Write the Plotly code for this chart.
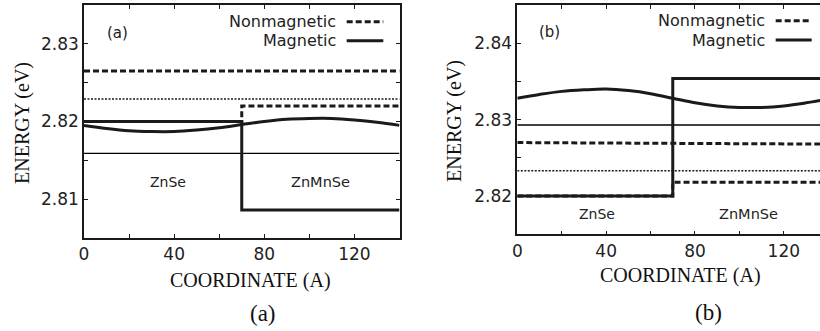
import plotly.graph_objects as go

# ---------------- data ----------------
coord = [0, 10, 20, 30, 40, 50, 60, 70, 80, 90, 100, 110, 120, 130, 140]
step_x = [0, 70, 70, 140]
flat_x = [0, 140]

# panel (a)
a_mag_wave = [2.8195, 2.8191, 2.8188, 2.8187, 2.8187, 2.8189, 2.8192, 2.8196,
              2.8200, 2.8203, 2.8204, 2.8204, 2.8202, 2.8199, 2.8195]
a_mag_pot = [2.8200, 2.8200, 2.8086, 2.8086]
a_non_pot = [2.8200, 2.8200, 2.8220, 2.8220]
a_non_wave = [2.8265, 2.8265]
a_non_level = [2.8229, 2.8229]
a_mag_level = [2.8159, 2.8159]

# panel (b)
b_mag_wave = [2.8328, 2.8333, 2.8337, 2.8339, 2.8340, 2.8338, 2.8334, 2.8328,
              2.8322, 2.8318, 2.8316, 2.8316, 2.8318, 2.8322, 2.8327]
b_mag_pot = [2.8200, 2.8200, 2.8354, 2.8354]
b_non_pot = [2.8200, 2.8200, 2.8218, 2.8218]
b_non_wave = [2.8270, 2.8268]
b_non_level = [2.8233, 2.8233]
b_mag_level = [2.8293, 2.8293]

x_tickvals = [0, 20, 40, 60, 80, 100, 120, 140]
x_ticktext = ["0", "", "40", "", "80", "", "120", ""]
a_y_tickvals = [2.805, 2.81, 2.815, 2.82, 2.825, 2.83, 2.835]
a_y_ticktext = ["", "2.81", "", "2.82", "", "2.83", ""]
b_y_tickvals = [2.815, 2.82, 2.825, 2.83, 2.835, 2.84, 2.845]
b_y_ticktext = ["", "2.82", "", "2.83", "", "2.84", ""]

# ---------------- figure ----------------
INK = "#1a1a1a"
THICK = 3
DASH = "6px,3px"
DOT = "2px,1.5px"

fig = go.Figure()

def add_panel(xa, ya, mag_wave, mag_pot, non_pot, non_wave, non_level, mag_level):
    kw = dict(xaxis=xa, yaxis=ya, mode="lines", showlegend=False, hoverinfo="skip")
    fig.add_trace(go.Scatter(x=flat_x, y=mag_level, line=dict(color="#000", width=1.4), **kw))
    fig.add_trace(go.Scatter(x=flat_x, y=non_level, line=dict(color=INK, width=1.5, dash=DOT), **kw))
    fig.add_trace(go.Scatter(x=flat_x, y=non_wave, line=dict(color=INK, width=THICK, dash=DASH), **kw))
    fig.add_trace(go.Scatter(x=step_x, y=non_pot, line=dict(color=INK, width=THICK, dash=DASH), **kw))
    fig.add_trace(go.Scatter(x=step_x, y=mag_pot, line=dict(color=INK, width=THICK), **kw))
    fig.add_trace(go.Scatter(x=coord, y=mag_wave, line=dict(color=INK, width=THICK, shape="spline"), **kw))

add_panel("x", "y", a_mag_wave, a_mag_pot, a_non_pot, a_non_wave, a_non_level, a_mag_level)
add_panel("x2", "y2", b_mag_wave, b_mag_pot, b_non_pot, b_non_wave, b_non_level, b_mag_level)

W, H = 820, 331
def px(x):
    return x / W
def py(y):
    return 1 - y / H

tickfont = dict(family="DejaVu Sans", size=17, color="#222")
axis_common = dict(showline=True, linecolor=INK, linewidth=1.6, ticks="inside",
                   ticklen=4, tickwidth=1.2, tickcolor=INK, showgrid=False,
                   zeroline=False, tickfont=tickfont, fixedrange=True,
                   automargin=False)

fig.update_layout(
    width=W, height=H,
    margin=dict(l=0, r=0, t=0, b=0, autoexpand=False),
    paper_bgcolor="white", plot_bgcolor="white",
    xaxis=dict(domain=[px(84), px(399.5)], range=[0, 140], anchor="y",
               tickmode="array", tickvals=x_tickvals, ticktext=x_ticktext,
               mirror="ticks", **axis_common),
    yaxis=dict(domain=[py(238), py(5)], range=[2.805, 2.835], anchor="x",
               tickmode="array", tickvals=a_y_tickvals, ticktext=a_y_ticktext,
               mirror="ticks", **axis_common),
    xaxis2=dict(domain=[px(517.3), 1.0], range=[0, 136.3], anchor="y2",
                tickmode="array", tickvals=x_tickvals, ticktext=x_ticktext,
                mirror="ticks", **axis_common),
    yaxis2=dict(domain=[py(234.3), py(5)], range=[2.815, 2.845], anchor="x2",
                tickmode="array", tickvals=b_y_tickvals, ticktext=b_y_ticktext,
                mirror=False, **axis_common),
)

sans = dict(family="DejaVu Sans", color="#222")
serif = dict(family="Liberation Serif", color="#111")

ann = []
# in-plot labels
ann += [
    dict(x=14.7, y=2.8314, xref="x", yref="y", text="(a)", font=dict(size=15, **sans)),
    dict(x=37.3, y=2.8122, xref="x", yref="y", text="ZnSe", font=dict(size=14, **sans)),
    dict(x=104.9, y=2.8122, xref="x", yref="y", text="ZnMnSe", font=dict(size=14.5, **sans)),
    dict(x=14.7, y=2.8415, xref="x2", yref="y2", text="(b)", font=dict(size=15, **sans)),
    dict(x=35.7, y=2.8177, xref="x2", yref="y2", text="ZnSe", font=dict(size=14, **sans)),
    dict(x=104, y=2.8177, xref="x2", yref="y2", text="ZnMnSe", font=dict(size=14.5, **sans)),
]
# legends (text on the left of the sample)
for (xr, yn, ym) in [(338, 21.7, 40.7), (766.7, 20.7, 40)]:
    ann.append(dict(x=px(xr), y=py(yn), xref="paper", yref="paper", xanchor="right",
                    text="Nonmagnetic", font=dict(size=16, **sans)))
    ann.append(dict(x=px(xr), y=py(ym), xref="paper", yref="paper", xanchor="right",
                    text="Magnetic", font=dict(size=16, **sans)))
# axis titles
ann += [
    dict(x=px(22), y=py(123), xref="paper", yref="paper", text="ENERGY (eV)",
         textangle=-90, font=dict(size=20, **serif)),
    dict(x=px(455), y=py(121), xref="paper", yref="paper", text="ENERGY (eV)",
         textangle=-90, font=dict(size=20, **serif)),
    dict(x=px(250), y=py(280), xref="paper", yref="paper", text="COORDINATE (A)",
         font=dict(size=20, **serif)),
    dict(x=px(680), y=py(275), xref="paper", yref="paper", text="COORDINATE (A)",
         font=dict(size=20, **serif)),
    dict(x=px(263), y=py(313), xref="paper", yref="paper", text="(a)",
         font=dict(size=23, **serif)),
    dict(x=px(708), y=py(312), xref="paper", yref="paper", text="(b)",
         font=dict(size=23, **serif)),
]
for a in ann:
    a.setdefault("showarrow", False)
    a.setdefault("xanchor", "center")
    a.setdefault("yanchor", "middle")
fig.update_layout(annotations=ann)

shapes = []
for (x0, x1, yn, ym) in [(346.7, 383.3, 21.7, 40.7), (775.7, 811.7, 20.7, 40)]:
    shapes.append(dict(type="line", xref="paper", yref="paper", x0=px(x0), x1=px(x1),
                       y0=py(yn), y1=py(yn), line=dict(color=INK, width=THICK, dash=DASH)))
    shapes.append(dict(type="line", xref="paper", yref="paper", x0=px(x0), x1=px(x1),
                       y0=py(ym), y1=py(ym), line=dict(color=INK, width=THICK)))
fig.update_layout(shapes=shapes)

fig.write_html("out.html", config={"displayModeBar": False},
               post_script="document.body.style.margin='0px';document.body.style.overflow='hidden';")
